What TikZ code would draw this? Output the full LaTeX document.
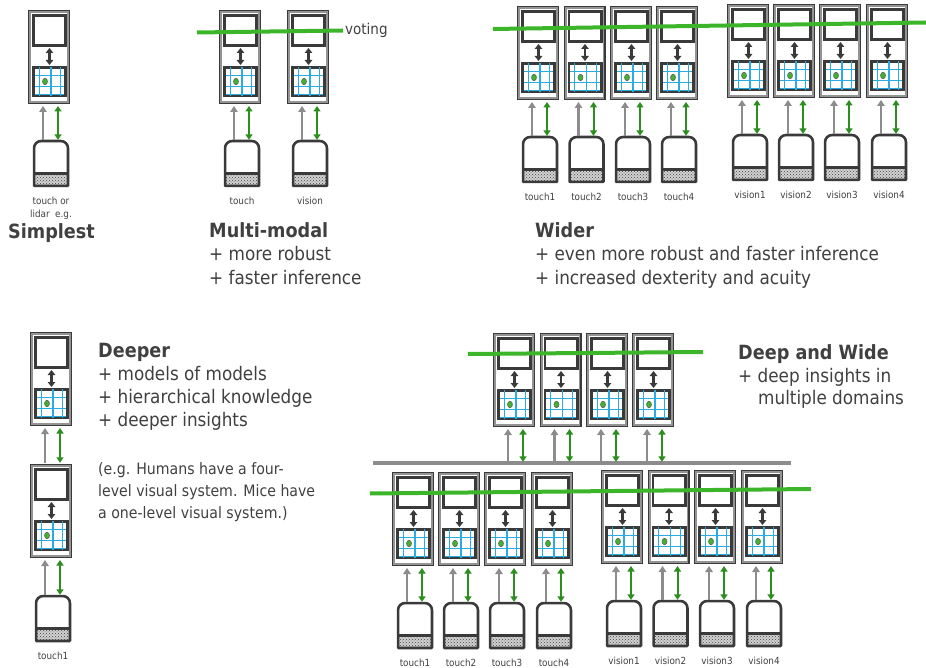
\documentclass[tikz,border=0pt]{standalone}
\usepackage{fontspec}
\setmainfont{DejaVu Sans Condensed}
\usepackage{xcolor}
\usepackage{tikz}
\usetikzlibrary{positioning}
\usetikzlibrary{calc,arrows.meta,patterns}

\definecolor{framegray}{HTML}{3A3A3A}
\definecolor{ridge}{HTML}{949494}
\definecolor{gridblue}{HTML}{2AABE3}
\definecolor{votegreen}{HTML}{3DB52B}
\definecolor{fbgreen}{HTML}{2C8E1E}
\definecolor{feedgray}{HTML}{8C8C8C}
\definecolor{inkgray}{HTML}{404040}

\tikzset{
  frame/.style = {draw=framegray, line width=2.6pt, fill=white,
    minimum width=39.4pt, minimum height=91.4pt, inner sep=0pt},% outer column
  ridgeline/.style = {draw=ridge, line width=1.7pt},% grey inner edge of a column
  memo/.style = {draw=framegray, line width=2.9pt, fill=white,
    minimum width=32.1pt, minimum height=30.1pt, inner sep=0pt},% upper layer
  gridbox/.style = {memo, minimum height=28.1pt},% lower layer, grid cells
  gridline/.style = {draw=gridblue, line width=1.2pt},
  dot/.style = {fill=votegreen, draw=framegray!80, line width=0.6pt},
  latent/.style = {draw=framegray, line width=2.8pt,
    {Triangle[width=7.5pt,length=5pt]}-{Triangle[width=7.5pt,length=5pt]},
    shorten <=1pt, shorten >=1pt},
  feedfwd/.style = {draw=feedgray, line width=2.4pt,
    -{Triangle[width=7.5pt,length=6pt]}, shorten <=1.2pt, shorten >=2pt},
  feedback/.style = {draw=fbgreen, line width=2pt,
    {Triangle[width=7pt,length=5.5pt]}-{Triangle[width=7pt,length=5.5pt]},
    shorten <=1.2pt, shorten >=2pt},
  sensorbox/.style = {minimum width=33.5pt, minimum height=44.5pt,
    inner sep=0pt},
  sensorline/.style = {draw=framegray, line width=2.6pt, line join=round},
  dotband/.style = {preaction={fill=gray!35}, pattern=crosshatch dots,
    pattern color=black!75},
  sensorlabel/.style = {align=center, inner sep=0pt, text=inkgray,
    font=\fontsize{9.8}{13}\selectfont},
  vote/.style = {draw=votegreen, line width=4pt},
  bar/.style = {draw=feedgray, line width=4pt},
  heading/.style = {anchor=base west, inner sep=0pt, text=inkgray,
    font=\fontsize{19.6}{23}\selectfont\bfseries},
  pro/.style = {anchor=base west, inner sep=0pt, text=inkgray,
    font=\fontsize{18.7}{22}\selectfont},
  aside/.style = {pro, font=\fontsize{15.7}{19}\selectfont},
  % one column: frame, upper layer, grid layer
  region/.pic = {
    \node[frame] (-frame) at (21,47) {};
    \draw[ridgeline] ($(-frame.south west)+(2.15,-2.15)$)
      rectangle ($(-frame.north east)+(-2.15,2.15)$);
    \node[memo] (-upper) at (21.5,20.5) {};
    \node[gridbox] (-grid) at (21.5,71.5) {};
    \foreach \u in {11.1,23,32.8} \draw[gridline] (\u,57.4) -- (\u,85.6);
    \foreach \v in {65.8,76.6,84.2} \draw[gridline] (6.7,\v) -- (36.3,\v);
    \fill[dot] (17,71.5) ellipse [x radius=2.5, y radius=3.2];
    \draw[latent] (-upper) -- (-grid);
  },
  % one sensor patch with its name underneath
  sensor/.pic = {
    \node[sensorbox] (-sensor) at (18,23.5) {};
    \fill[dotband] (-sensor.south west) rectangle ([yshift=12.5pt]-sensor.south east);
    \draw[sensorline] ([yshift=12.5pt]-sensor.south west) -- ([yshift=12.5pt]-sensor.south east);
    \draw[sensorline] (-sensor.south west) -- ([yshift=-7pt]-sensor.north west)
      arc[start angle=180, end angle=90, radius=7pt]
      -- ([xshift=-7pt]-sensor.north east)
      arc[start angle=90, end angle=0, radius=7pt]
      -- (-sensor.south east) -- cycle;
    \node[sensorlabel, below=11pt of -sensor] (-label) {#1};
  }
}

% input arrow and feedback arrow into a column
\newcommand\feedup[2]{%
  \draw[feedfwd] ($(#2.south |- #1)+(-6,0)$) -- ($(#2.south)+(-6,0)$);
  \draw[feedback] ($(#2.south |- #1)+(9,0)$) -- ($(#2.south)+(9,0)$);
}

\begin{document}
\begin{tikzpicture}[x=1pt, y=-1pt]
\useasboundingbox (0,0) rectangle (926,668);

% simplest
\pic (s) at (28,10) {region};
\pic (ss) at (33,140) {sensor={touch or\\lidar\ \ e.g.}};
\feedup{ss-sensor.north}{s-frame}
\node[heading] (simplest) at (8,239) {Simplest};

% multi-modal
\foreach \n/\x/\what in {1/219/touch, 2/287/vision}{
  \pic (m\n) at (\x,10) {region};
  \pic (ms\n) at (\x+5,140) {sensor=\what};
  \feedup{ms\n-sensor.north}{m\n-frame}
}
\coordinate (mvoteL) at (197,32.5);
\coordinate (mvoteR) at (343,30.5);
\draw[vote] (mvoteL) -- (mvoteR);
\node[anchor=base west, inner sep=0pt, text=inkgray,
  font=\fontsize{15}{18}\selectfont] (voting) at (345,35) {voting};
\node[heading] (multi) at (209,238) {Multi-modal};
\node[pro] (multi1) at (209,261) {+ more robust};
\node[pro] (multi2) at (209,284) {+ faster inference};

% wider
\foreach \i/\x in {1/517,2/563.5,3/610,4/656}{
  \pic (wt\i) at (\x,6) {region};
  \pic (wts\i) at (\x+5,136) {sensor=touch\i};
  \feedup{wts\i-sensor.north}{wt\i-frame}
}
\foreach \i/\x in {1/727,2/773,3/819,4/866}{
  \pic (wv\i) at (\x,4) {region};
  \pic (wvs\i) at (\x+5,134) {sensor=vision\i};
  \feedup{wvs\i-sensor.north}{wv\i-frame}
}
\coordinate (wvoteL) at (493,29);
\coordinate (wvoteR) at (926,22.5);
\draw[vote] (wvoteL) -- (wvoteR);
\node[heading] (wider) at (535,238) {Wider};
\node[pro] (wider1) at (535,261) {+ even more robust and faster inference};
\node[pro] (wider2) at (535,284) {+ increased dexterity and acuity};

% deeper
\pic (d2) at (30,332) {region};
\pic (d1) at (30,464) {region};
\pic (ds) at (35,595) {sensor=touch1};
\feedup{ds-sensor.north}{d1-frame}
\feedup{d1-frame.north}{d2-frame}
\node[heading] (deeper) at (98,357) {Deeper};
\node[pro] (deeper1) at (98,380) {+ models of models};
\node[pro] (deeper2) at (98,403) {+ hierarchical knowledge};
\node[pro] (deeper3) at (98,426) {+ deeper insights};
\node[aside] (note1) at (98,474) {(e.g. Humans have a four-};
\node[aside] (note2) at (98,496) {level visual system. Mice have};
\node[aside] (note3) at (98,518) {a one-level visual system.)};

% deep and wide
\foreach \i/\x in {1/493,2/539.5,3/586,4/632}{
  \pic (dw\i) at (\x,333) {region};
}
\coordinate (barL) at (373,463);
\coordinate (barR) at (791,463);
\draw[bar] (barL) -- (barR);
\foreach \i in {1,...,4}{
  \feedup{barL}{dw\i-frame}
}
\coordinate (tvoteL) at (468,354);
\coordinate (tvoteR) at (703,352);
\draw[vote] (tvoteL) -- (tvoteR);

\foreach \i/\x in {1/392,2/438,3/484,4/531}{
  \pic (bt\i) at (\x,472) {region};
  \pic (bts\i) at (\x+5,602) {sensor=touch\i};
  \feedup{bts\i-sensor.north}{bt\i-frame}
}
\foreach \i/\x in {1/601,2/647.5,3/694,4/741}{
  \pic (bv\i) at (\x,470) {region};
  \pic (bvs\i) at (\x+5,600) {sensor=vision\i};
  \feedup{bvs\i-sensor.north}{bv\i-frame}
}
\coordinate (bvoteL) at (370,493.5);
\coordinate (bvoteR) at (811,489);
\draw[vote] (bvoteL) -- (bvoteR);

\node[heading] (deepwide) at (738,359) {Deep and Wide};
\node[pro] (deepwide1) at (738,382) {+ deep insights in};
\node[pro] (deepwide2) at (758,404) {multiple domains};
\end{tikzpicture}
\end{document}
